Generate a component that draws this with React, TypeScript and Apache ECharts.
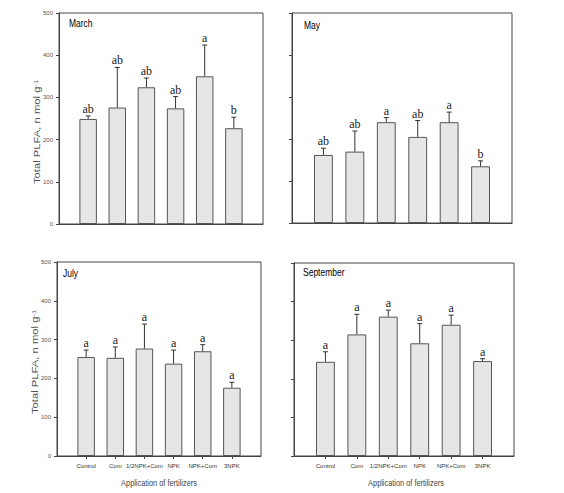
import React, { useEffect, useRef } from "react";
import * as echarts from "echarts";

const categories = ["Control", "Com", "1/2NPK+Com", "NPK", "NPK+Com", "3NPK"];
const yTicks = [0, 100, 200, 300, 400, 500];
const panelTitles = ["March", "May", "July", "September"];

const marchMeans = [249, 276, 324, 274, 350, 227];
const marchErrors = [7, 95, 22, 28, 74, 26];
const marchLetters = ["ab", "ab", "ab", "ab", "a", "b"];

const mayMeans = [162, 170, 240, 205, 240, 135];
const mayErrors = [16, 49, 11, 39, 24, 13];
const mayLetters = ["ab", "ab", "a", "ab", "a", "b"];

const julyMeans = [255, 253, 277, 238, 270, 176];
const julyErrors = [18, 28, 63, 35, 17, 14];
const julyLetters = ["a", "a", "a", "a", "a", "a"];

const septMeans = [244, 315, 361, 292, 340, 246];
const septErrors = [26, 52, 17, 51, 25, 6];
const septLetters = ["a", "a", "a", "a", "a", "a"];

const yAxisTitle = "Total PLFA, n mol g";
const yAxisTitleSup = "-1";
const xAxisTitle = "Application of fertilizers";

const SANS = "'Liberation Sans', Arial, sans-serif";

export default function App() {
  const ref = useRef<HTMLDivElement>(null);

  useEffect(() => {
    if (!ref.current) return;
    const chart = echarts.init(ref.current, undefined, { renderer: "svg" });

    const panels = [
      { means: marchMeans, errors: marchErrors, letters: marchLetters, grid: { left: 59, top: 13, width: 204, height: 211 }, yLabels: true, xLabels: false },
      { means: mayMeans, errors: mayErrors, letters: mayLetters, grid: { left: 292, top: 13, width: 220, height: 210 }, yLabels: false, xLabels: false },
      { means: julyMeans, errors: julyErrors, letters: julyLetters, grid: { left: 57, top: 262, width: 204, height: 194 }, yLabels: true, xLabels: true },
      { means: septMeans, errors: septErrors, letters: septLetters, grid: { left: 294, top: 263, width: 220, height: 193 }, yLabels: false, xLabels: true },
    ];

    const paddedCats = ["", ...categories, ""];
    const axisColor = "#444";

    const grid = panels.map((p) => ({
      ...p.grid,
      show: true,
      borderColor: axisColor,
      borderWidth: 1,
      backgroundColor: "transparent",
      containLabel: false,
    }));

    const xAxis = panels.map((p, i) => ({
      type: "category",
      gridIndex: i,
      data: paddedCats,
      boundaryGap: false,
      axisLine: { show: true, lineStyle: { color: axisColor, width: 1 } },
      axisTick: {
        show: p.xLabels,
        length: 3,
        lineStyle: { color: axisColor },
        interval: (idx: number) => idx > 0 && idx < paddedCats.length - 1,
      },
      axisLabel: {
        show: p.xLabels,
        interval: 0,
        hideOverlap: false,
        margin: 7,
        fontSize: 6,
        color: "#333",
        fontFamily: SANS,
      },
      splitLine: { show: false },
    }));

    const yAxis = panels.map((p, i) => ({
      type: "value",
      gridIndex: i,
      min: yTicks[0],
      max: yTicks[yTicks.length - 1],
      interval: yTicks[1] - yTicks[0],
      axisLine: { show: true, lineStyle: { color: axisColor, width: 1 } },
      axisTick: { show: true, length: 3, lineStyle: { color: axisColor } },
      axisLabel: {
        show: p.yLabels,
        margin: 6,
        fontSize: 6,
        color: "#555",
        fontFamily: SANS,
      },
      splitLine: { show: false },
    }));

    const series: any[] = [];
    panels.forEach((p, i) => {
      series.push({
        type: "bar",
        xAxisIndex: i,
        yAxisIndex: i,
        barWidth: "60%",
        data: ["-", ...p.means, "-"],
        itemStyle: { color: "#e6e6e6", borderColor: "#555", borderWidth: 1 },
        z: 2,
      });
      const letters = p.letters;
      series.push({
        type: "custom",
        xAxisIndex: i,
        yAxisIndex: i,
        z: 3,
        clip: false,
        data: p.means.map((m, k) => [k + 1, m, m + p.errors[k]]),
        renderItem: (params: any, api: any) => {
          const x = api.value(0);
          const base = api.coord([x, api.value(1)]);
          const top = api.coord([x, api.value(2)]);
          const stroke = { stroke: "#333", lineWidth: 1 };
          return {
            type: "group",
            children: [
              { type: "line", shape: { x1: base[0], y1: base[1], x2: top[0], y2: top[1] }, style: stroke },
              { type: "line", shape: { x1: top[0] - 2.5, y1: top[1], x2: top[0] + 2.5, y2: top[1] }, style: stroke },
              {
                type: "text",
                x: top[0],
                y: top[1] - 1,
                style: {
                  text: letters[params.dataIndex],
                  textAlign: "center",
                  textVerticalAlign: "bottom",
                  font: "12px 'Liberation Serif', 'Times New Roman', serif",
                  fill: "#222",
                },
              },
            ],
          };
        },
      });
    });

    const titlePos = [
      [69, 24],
      [304, 26],
      [63, 274],
      [303, 273],
    ];

    const graphic: any[] = panelTitles.map((t, i) => ({
      type: "text",
      x: titlePos[i][0],
      y: titlePos[i][1],
      scaleX: 0.85,
      style: {
        text: t,
        textVerticalAlign: "middle",
        font: "10px " + SANS,
        fill: "#000",
      },
    }));

    const yTitlePos = [
      [37, 132],
      [35, 362],
    ];
    yTitlePos.forEach(([x, y]) => {
      graphic.push({
        type: "text",
        x,
        y,
        rotation: Math.PI / 2,
        scaleX: 1.25,
        style: {
          text: yAxisTitle + "{sup|" + yAxisTitleSup + "}",
          textAlign: "center",
          textVerticalAlign: "middle",
          font: "9px " + SANS,
          fill: "#555",
          rich: {
            sup: { fontSize: 6, verticalAlign: "top", fill: "#555" } as any,
          },
        },
      });
    });

    const xTitlePos = [
      [159, 483],
      [406, 483],
    ];
    xTitlePos.forEach(([x, y]) => {
      graphic.push({
        type: "text",
        x,
        y,
        scaleX: 0.82,
        style: {
          text: xAxisTitle,
          textAlign: "center",
          textVerticalAlign: "middle",
          font: "9px " + SANS,
          fill: "#444",
        },
      });
    });

    chart.setOption({
      animation: false,
      backgroundColor: "#ffffff",
      grid,
      xAxis,
      yAxis,
      series,
      graphic,
    } as any);

    return () => chart.dispose();
  }, []);

  return (
    <div
      ref={ref}
      style={{ position: "fixed", left: 0, top: 0, width: 564, height: 493 }}
    />
  );
}
